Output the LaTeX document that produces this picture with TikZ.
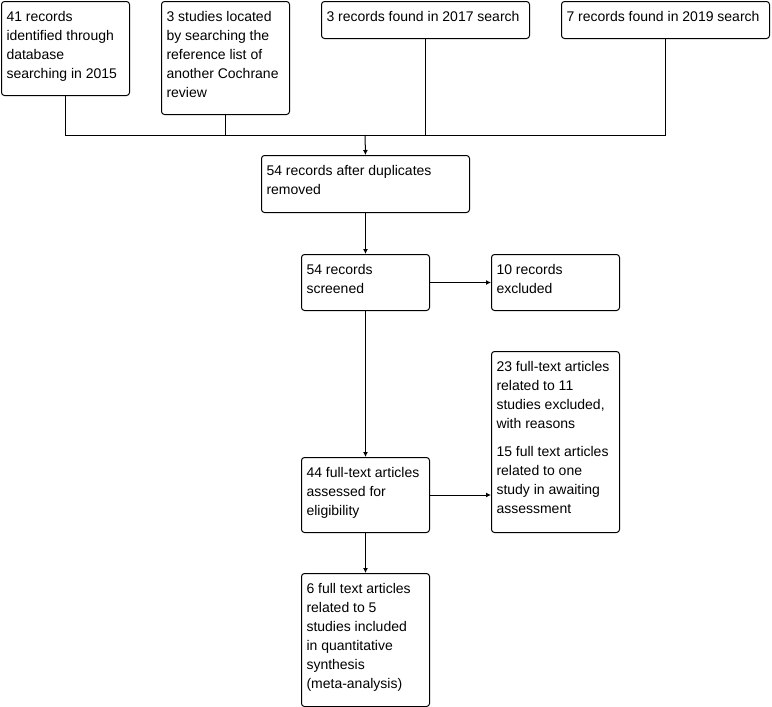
\documentclass[tikz,border=0pt]{standalone}
\usepackage{fontspec}
\setmainfont{Liberation Sans}
\usetikzlibrary{arrows.meta}
\newcommand\flowbox[6]{%
  \node[flowbox, anchor=north west] (#1) at (#2,#3)
    {\parbox[t][\dimexpr #5pt-#3pt\relax][t]{\dimexpr #4pt-#2pt-10pt\relax}{%
      \fontsize{14}{19}\selectfont\raggedright\rule{0pt}{19.5pt}#6}};}
\begin{document}
\begin{tikzpicture}[x=1pt,y=-1pt,
  flowbox/.style={draw=black, line width=1pt, rounded corners=3pt,
    inner xsep=5pt, inner ysep=0pt, align=left},
  conn/.style={draw=black, line width=1pt},
  arr/.style={conn, -{Latex[length=5pt,width=5pt]}}]
\useasboundingbox (0,0) rectangle (772,707);
\flowbox{b1}{1}{1}{129}{95}{41 records\\identified through\\database\\searching in 2015}
\flowbox{b2}{161}{1}{289}{114}{3 studies located\\by searching the\\reference list of\\another Cochrane\\review}
\flowbox{b3}{321}{1}{529}{38}{3 records found in 2017 search}
\flowbox{b4}{561}{1}{769}{38}{7 records found in 2019 search}
\flowbox{b5}{261}{155}{469}{212}{54 records after duplicates\\removed}
\flowbox{b6}{301}{254}{429}{310}{54 records\\screened}
\flowbox{b7}{491}{254}{619}{310}{10 records\\excluded}
\flowbox{b8}{491}{351}{619}{532}{23 full-text articles\\related to 11\\studies excluded,\\with reasons\par\vspace{9pt}15 full text articles\\related to one\\study in awaiting\\assessment}
\flowbox{b9}{301}{457}{429}{532}{44 full-text articles\\assessed for\\eligibility}
\flowbox{b10}{301}{573}{429}{706}{6 full text articles\\related to 5\\studies included\\in quantitative\\synthesis\\(meta-analysis)}
\coordinate (j) at (365,135);
\draw[conn] (b1.south) |- (j);
\draw[conn] (b4.south) |- (j);
\draw[conn] (b2.south) -- (b2.south |- j);
\draw[conn] (b3.south) -- (b3.south |- j);
\draw[arr] (j) -- (b5.north);
\draw[arr] (b5.south) -- (b6.north);
\draw[arr] (b6.east) -- (b7.west);
\draw[arr] (b6.south) -- (b9.north);
\draw[arr] (b9.east) -- (b9.east -| b8.west);
\draw[arr] (b9.south) -- (b10.north);
\end{tikzpicture}
\end{document}
